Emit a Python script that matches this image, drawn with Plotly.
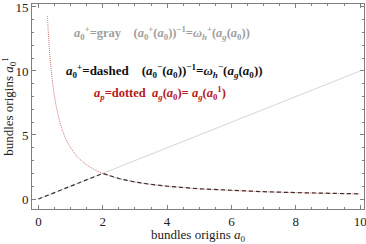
import plotly.graph_objects as go

# gray solid line
gray_x = [0, 10]
gray_y = [0, 10]
# black dashed
dash_x = [0, 2, 2.5, 3, 3.5, 4, 5, 6, 7, 8, 9, 10]
dash_y = [0, 2, 1.6, 1.33, 1.14, 1.0, 0.8, 0.67, 0.57, 0.5, 0.44, 0.4]
# red dotted
dot_x = [0.28, 0.3, 0.35, 0.4, 0.45, 0.5, 0.6, 0.7, 0.8, 0.9, 1.0, 1.2, 1.4, 1.6, 1.8, 2.0,
         2.5, 3, 3.5, 4, 5, 6, 7, 8, 9, 10]
dot_y = [14.3, 13.3, 11.4, 10.0, 8.9, 8.0, 6.67, 5.71, 5.0, 4.44, 4.0, 3.33, 2.86, 2.5, 2.22, 2.0,
         1.6, 1.33, 1.14, 1.0, 0.8, 0.67, 0.57, 0.5, 0.44, 0.4]

fig = go.Figure()
fig.add_trace(go.Scatter(x=gray_x, y=gray_y, mode="lines",
                         line=dict(color="#d6d6d6", width=1)))
fig.add_trace(go.Scatter(x=dot_x, y=dot_y, mode="lines", line_shape="spline",
                         line=dict(color="#d07070", width=1, dash="1px,1px")))
fig.add_trace(go.Scatter(x=dash_x, y=dash_y, mode="lines", line_shape="linear",
                         line=dict(color="#333333", width=1.2, dash="4px,3px")))

font = "Liberation Serif, Times New Roman, serif"
ann = [
    (73, 33, 12.5, "<b><i>a</i><sub>0</sub><sup>+</sup>=gray &nbsp;&nbsp;&nbsp;(<i>a</i><sub>0</sub><sup>+</sup>(<i>a</i><sub>0</sub>))<sup>−1</sup>=<i>ω</i><sub><i>h</i></sub><sup>+</sup>(<i>a</i><sub><i>g</i></sub>(<i>a</i><sub>0</sub>))</b>", "#a0a0a0"),
    (65, 71, 13, "<b><i>a</i><sub>0</sub><sup>+</sup>=dashed &nbsp;&nbsp;&nbsp;(<i>a</i><sub>0</sub><sup>−</sup>(<i>a</i><sub>0</sub>))<sup>−1</sup>=<i>ω</i><sub><i>h</i></sub><sup>−</sup>(<i>a</i><sub><i>g</i></sub>(<i>a</i><sub>0</sub>))</b>", "#111111"),
    (93, 93, 12.5, "<b><i>a</i><sub><i>p</i></sub>=dotted &nbsp;<i>a</i><sub><i>g</i></sub>(<i>a</i><sub>0</sub>)= <i>a</i><sub><i>g</i></sub>(<i>a</i><sub>0</sub><sup>1</sup>)</b>", "#b81818"),
]
W, H = 366, 244
L, R, T, B = 32, 2, 4, 35
pw, ph = W - L - R, H - T - B
for px, py, fs, txt, col in ann:
    fig.add_annotation(x=(px - L) / pw, y=1 - (py - T) / ph, xref="paper", yref="paper",
                       showarrow=False, text=txt, xanchor="left", yanchor="middle",
                       borderpad=0, font=dict(family=font, size=fs, color=col))

axis_common = dict(showline=True, linecolor="#808080", linewidth=1, mirror="allticks",
                   ticks="inside", ticklen=4, tickcolor="#808080", showgrid=False,
                   zeroline=False, ticklabeloverflow="allow",
                   tickfont=dict(family=font, size=13, color="#222"))
fig.update_xaxes(range=[-0.2, 10.12], tickvals=[0, 2, 4, 6, 8, 10], ticktext=["0", "2", "4", "6", "8", "10"],
                 minor=dict(dtick=0.5, ticks="inside", ticklen=2, tickcolor="#808080", tick0=0),
                 title=dict(text="bundles origins <i>a</i><sub>0</sub>",
                            font=dict(family=font, size=13, color="#222"), standoff=0),
                 **axis_common)
fig.update_yaxes(range=[-0.78, 15.23], tickvals=[0, 5, 10, 15], ticktext=["0", "5", "10", "15"],
                 minor=dict(dtick=1, ticks="inside", ticklen=2, tickcolor="#808080", tick0=0),
                 title=dict(text="bundles origins <i>a</i><sub>0</sub><sup>1</sup>",
                            font=dict(family=font, size=13, color="#222"), standoff=2),
                 **axis_common)
fig.update_layout(width=W, height=H, margin=dict(l=L, r=R, t=T, b=B, autoexpand=False),
                  plot_bgcolor="white", paper_bgcolor="white", showlegend=False)
fig.write_html("out.html", config={"displayModeBar": False},
               post_script="document.body.style.margin='0';document.body.style.overflow='hidden';")
